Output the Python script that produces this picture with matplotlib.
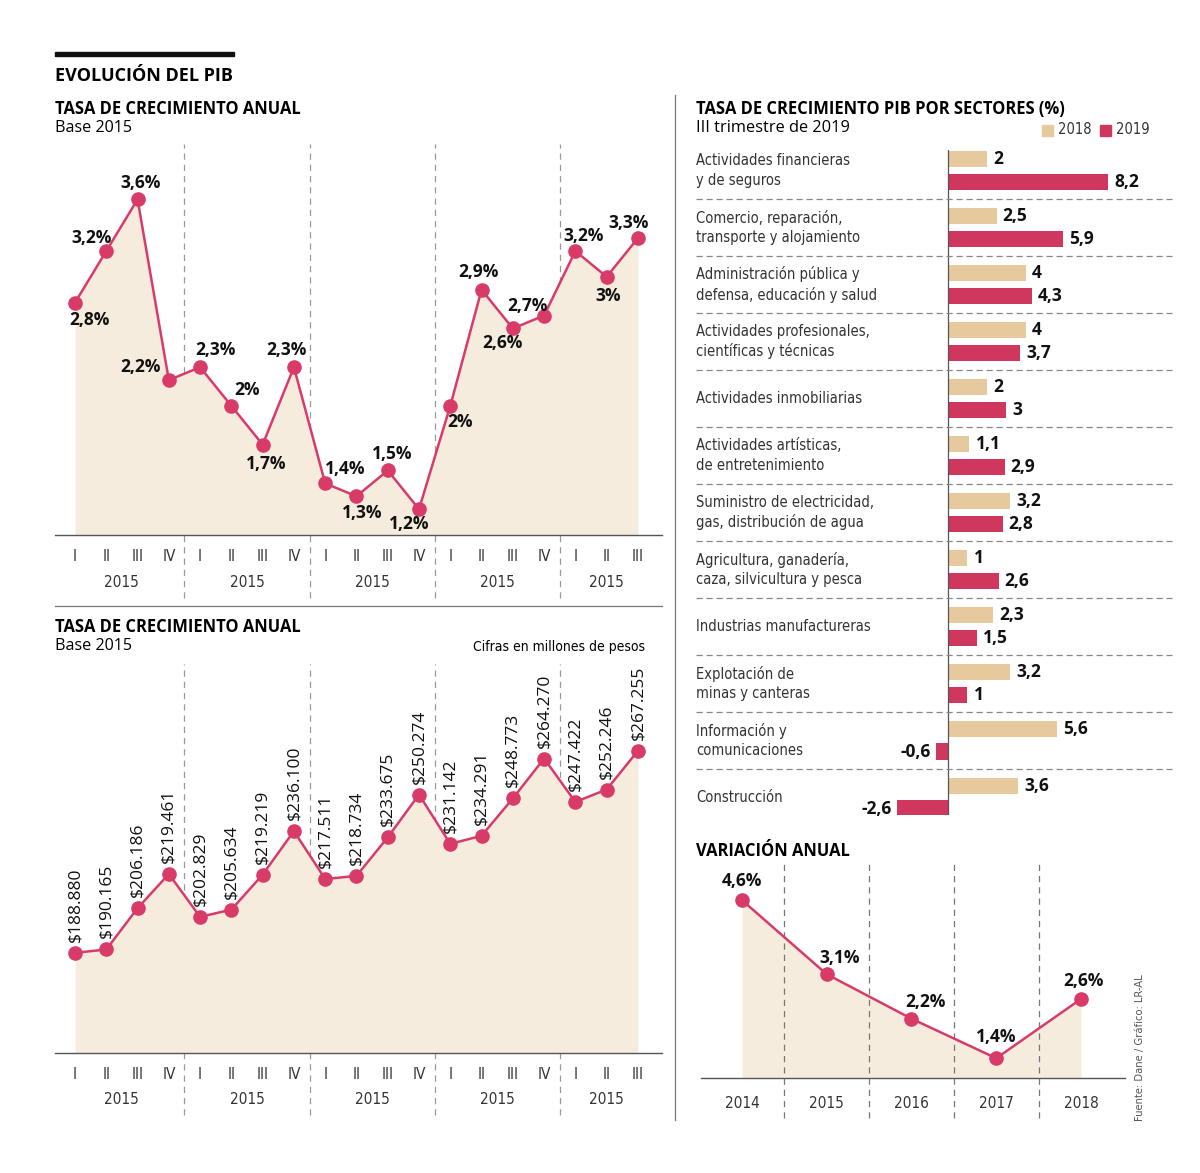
import matplotlib
matplotlib.use('Agg')
import matplotlib.pyplot as plt
from matplotlib import font_manager as fm
from matplotlib.patches import Rectangle
from matplotlib.lines import Line2D
import matplotlib.transforms as mtrans

W, H = 1200, 1173

# ---- datos ----
trimestres = ['I', 'II', 'III', 'IV'] * 4 + ['I', 'II', 'III']
anios = ['2015', '2015', '2015', '2015', '2015']
tasa = [2.8, 3.2, 3.6, 2.2, 2.3, 2.0, 1.7, 2.3, 1.4, 1.3, 1.5, 1.2,
        2.0, 2.9, 2.6, 2.7, 3.2, 3.0, 3.3]
pib = [188.880, 190.165, 206.186, 219.461, 202.829, 205.634, 219.219, 236.100,
       217.511, 218.734, 233.675, 250.274, 231.142, 234.291, 248.773, 264.270,
       247.422, 252.246, 267.255]

sectores = ['Actividades financieras\ny de seguros',
            'Comercio, reparación,\ntransporte y alojamiento',
            'Administración pública y\ndefensa, educación y salud',
            'Actividades profesionales,\ncientíficas y técnicas',
            'Actividades inmobiliarias',
            'Actividades artísticas,\nde entretenimiento',
            'Suministro de electricidad,\ngas, distribución de agua',
            'Agricultura, ganadería,\ncaza, silvicultura y pesca',
            'Industrias manufactureras',
            'Explotación de\nminas y canteras',
            'Información y\ncomunicaciones',
            'Construcción']
v2018 = [2, 2.5, 4, 4, 2, 1.1, 3.2, 1, 2.3, 3.2, 5.6, 3.6]
v2019 = [8.2, 5.9, 4.3, 3.7, 3, 2.9, 2.8, 2.6, 1.5, 1, -0.6, -2.6]

anual_anios = ['2014', '2015', '2016', '2017', '2018']
anual = [4.6, 3.1, 2.2, 1.4, 2.6]

# ---- estilo ----
# buscar una fuente estrecha (condensed / narrow) si existe
cands = [f for f in fm.fontManager.ttflist
         if ('Narrow' in f.name or 'Condensed' in f.name or 'Condensed' in f.fname
             or f.stretch in ('condensed', 'semi-condensed', 'extra-condensed'))
         and f.style == 'normal' and f.weight in (400, 'normal', 'regular', 'book')]
if cands:
    COND_FP = fm.FontProperties(fname=cands[0].fname)
    COND_SZ = 10.5
else:
    COND_FP = fm.FontProperties(family='Liberation Sans')
    COND_SZ = 9.5
BOLD = 'Open Sans'
ROJO = '#d93b69'
BAR19 = '#d0375f'
BAR18 = '#e6c99c'
FONDO = '#f5ecde'


def fmt(v):
    return f'{v:g}'.replace('.', ',')


def ax_px(left, top, right, bottom):
    a = fig.add_axes([left / W, 1 - bottom / H, (right - left) / W, (bottom - top) / H])
    a.patch.set_alpha(0)
    for s in a.spines.values():
        s.set_visible(False)
    return a


def txt(x, y, s, **kw):
    fig.text(x / W, 1 - y / H, s, **kw)


fig = plt.figure(figsize=(W / 100, H / 100), dpi=100)

# títulos izquierda
fig.add_artist(Rectangle((55 / W, 1 - 56 / H), 179 / W, 4 / H, transform=fig.transFigure,
                         color='#111111'))
txt(55, 76, 'EVOLUCIÓN DEL PIB', family=BOLD, weight='bold', size=13, va='center')
txt(55, 109, 'TASA DE CRECIMIENTO ANUAL', family=BOLD, weight='bold', size=11.9, va='center')
txt(55, 128, 'Base 2015', family=BOLD, size=11.6, va='center')
txt(55, 627, 'TASA DE CRECIMIENTO ANUAL', family=BOLD, weight='bold', size=11.9, va='center')
txt(55, 646, 'Base 2015', family=BOLD, size=11.6, va='center')
txt(645, 647, 'Cifras en millones de pesos', fontproperties=COND_FP, size=COND_SZ - 0.5,
    va='center', ha='right')

# líneas divisorias
fig.add_artist(Line2D([675 / W, 675 / W], [1 - 95 / H, 1 - 1120 / H], color='#777777', lw=0.9))
fig.add_artist(Line2D([55 / W, 662 / W], [1 - 606 / H, 1 - 606 / H], color='#777777', lw=0.9))

x = list(range(len(tasa)))


def eje_trimestres(ax, ymin_frac):
    ax.set_xlim(-0.64, 18.77)
    ax.axhline(ax.get_ylim()[0], color='#555555', lw=1.0, clip_on=False)
    for b in [3.5, 7.5, 11.5, 15.5]:
        ax.axvline(b, ymin=ymin_frac, ymax=0.99, color='#999999', lw=0.9,
                   ls=(0, (5, 4)), clip_on=False, zorder=0)
    ax.set_xticks(x)
    ax.set_xticklabels(trimestres, fontproperties=COND_FP, size=COND_SZ + 0.5, color='#333333')
    ax.tick_params(axis='x', length=0, pad=10)
    ax.set_yticks([])
    tr = mtrans.blended_transform_factory(ax.transData, ax.transAxes)
    centros = [1.5, 5.5, 9.5, 13.5, 17]
    for c, a in zip(centros, anios):
        ax.text(c, ymin_frac + 0.04, a, transform=tr, fontproperties=COND_FP,
                size=COND_SZ + 0.5, color='#333333', ha='center', va='center')


# ---- gráfico 1: tasa de crecimiento ----
ax1 = ax_px(55, 140, 662, 535)
ax1.set_ylim(1.0, 4.06)
ax1.fill_between(x, tasa, 1.0, color=FONDO, lw=0, zorder=1)
ax1.plot(x, tasa, color=ROJO, lw=1.8, marker='o', ms=9.5, zorder=3)
eje_trimestres(ax1, -0.16)
offs = [(14, 17), (-15, -13), (3, -16), (-28, -13), (15, -17), (16, -16), (4, 19),
        (-7, -17), (20, -14), (6, 17), (4, -16), (-10, 15), (10, 16), (-3, -18),
        (-10, 15), (-17, -10), (8, -15), (1, 19), (-9, -15)]
for i, v in enumerate(tasa):
    dx, dy = offs[i]
    ax1.annotate(fmt(v) + '%', (i, v), xytext=(dx, -dy), textcoords='offset pixels',
                 ha='center', va='center', family=BOLD, weight='bold', size=12.5,
                 color='#111111', zorder=4)

# ---- gráfico 2: PIB en millones ----
ax2 = ax_px(55, 660, 662, 1053)
ax2.set_ylim(150, 302.5)
ax2.fill_between(x, pib, 150, color=FONDO, lw=0, zorder=1)
ax2.plot(x, pib, color=ROJO, lw=1.8, marker='o', ms=9.5, zorder=3)
eje_trimestres(ax2, -0.158)
for i, v in enumerate(pib):
    ax2.annotate(f'${v:.3f}', (i, v), xytext=(0, 11), textcoords='offset pixels',
                 rotation=90, ha='center', va='bottom', family=BOLD, size=12.5,
                 weight='medium', color='#111111', zorder=4)

# ---- gráfico 3: sectores ----
txt(696, 109, 'TASA DE CRECIMIENTO PIB POR SECTORES (%)', family=BOLD, weight='bold',
    size=11.9, va='center')
txt(696, 128, 'III trimestre de 2019', family=BOLD, size=11.8, va='center')
fig.add_artist(Rectangle((1042 / W, 1 - 136 / H), 11 / W, 11 / H,
                         transform=fig.transFigure, color=BAR18))
txt(1058, 130, '2018', fontproperties=COND_FP, size=COND_SZ, va='center', color='#333333')
fig.add_artist(Rectangle((1100 / W, 1 - 136 / H), 11 / W, 11 / H,
                         transform=fig.transFigure, color=BAR19))
txt(1116, 130, '2019', fontproperties=COND_FP, size=COND_SZ, va='center', color='#333333')

ax3 = ax_px(880, 150, 1150, 815)
ax3.set_xlim(-68 / 19.5, 270 / 19.5 - 68 / 19.5)
ax3.set_ylim(11.31, -0.36)
ax3.set_xticks([])
ax3.set_yticks([])
filas = list(range(len(sectores)))
ax3.barh([k - 0.2 for k in filas], v2018, height=0.29, color=BAR18)
ax3.barh([k + 0.2 for k in filas], v2019, height=0.29, color=BAR19)
ax3.axvline(0, color='#555555', lw=0.9)
for k in filas[:-1]:
    ax3.axhline(k + 0.5, xmin=-0.68, xmax=1.08, color='#888888', lw=0.9,
                ls=(0, (5, 3)), clip_on=False)
tr3 = mtrans.blended_transform_factory(ax3.transAxes, ax3.transData)
for k, nombre in zip(filas, sectores):
    ax3.text(-0.681, k, nombre, transform=tr3, fontproperties=COND_FP, size=COND_SZ,
             color='#333333', ha='left', va='center', linespacing=1.35)
for k in filas:
    for v, off in [(v2018[k], -0.2), (v2019[k], 0.2)]:
        ax3.annotate(fmt(v), (v, k + off), xytext=(6 if v >= 0 else -6, 0),
                     textcoords='offset pixels', ha='left' if v >= 0 else 'right',
                     va='center', family=BOLD, weight='bold', size=12.5, color='#111111')

# ---- gráfico 4: variación anual ----
txt(696, 851, 'VARIACIÓN ANUAL', family=BOLD, weight='bold', size=11.9, va='center')
ax4 = ax_px(701, 862, 1125, 1078)
xa = list(range(len(anual)))
ax4.set_xlim(-41 / 84.75, 4 + 44 / 84.75)
ax4.set_ylim(1.0, 1.0 + 216 / 49.4)
ax4.fill_between(xa, anual, 1.0, color=FONDO, lw=0, zorder=1)
ax4.plot(xa, anual, color=ROJO, lw=1.8, marker='o', ms=9.5, zorder=3)
ax4.axhline(1.0, color='#555555', lw=1.0, clip_on=False)
for b in [0.5, 1.5, 2.5, 3.5]:
    ax4.axvline(b, ymin=-0.185, ymax=1, color='#777777', lw=0.9, ls=(0, (5, 4)),
                clip_on=False, zorder=2)
ax4.set_xticks(xa)
ax4.set_xticklabels(anual_anios, fontproperties=COND_FP, size=COND_SZ + 0.5, color='#333333')
ax4.tick_params(axis='x', length=0, pad=13)
ax4.set_yticks([])
offs4 = [(0, -19), (13, -16), (14, -17), (0, -21), (2, -18)]
for i, v in enumerate(anual):
    dx, dy = offs4[i]
    ax4.annotate(fmt(v) + '%', (i, v), xytext=(dx, -dy), textcoords='offset pixels',
                 ha='center', va='center', family=BOLD, weight='bold', size=12.5,
                 color='#111111', zorder=4)

txt(1140, 1048, 'Fuente: Dane / Gráfico: LR-AL', fontproperties=COND_FP, size=8,
    rotation=90, ha='center', va='center', color='#555555')

fig.savefig('out.png', dpi=100, facecolor='white')
